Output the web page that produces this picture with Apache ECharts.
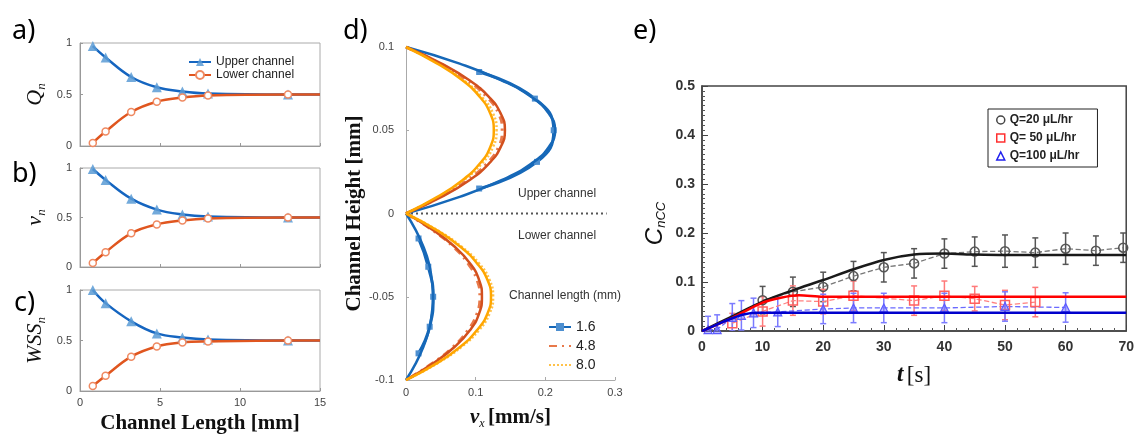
<!DOCTYPE html>
<html>
<head>
<meta charset="utf-8">
<script src="https://cdn.jsdelivr.net/npm/echarts@6/dist/echarts.min.js"></script>
<style>
html, body { margin: 0; padding: 0; background: #fff; }
#main { width: 1137px; height: 435px; }
</style>
</head>
<body>
<div id="main"></div>
<script>
// ---- panels a-c : normalised quantities vs channel length
var chLen  = [0.8, 1.6, 3.2, 4.8, 6.4, 8.0, 13.0, 15.0];
var qUp    = [0.97, 0.86, 0.67, 0.57, 0.53, 0.51, 0.50, 0.50];
var qLow   = [0.03, 0.14, 0.33, 0.43, 0.47, 0.49, 0.50, 0.50];
var vUp    = [0.99, 0.88, 0.69, 0.58, 0.53, 0.51, 0.50, 0.50];
var vLow   = [0.04, 0.15, 0.34, 0.43, 0.47, 0.49, 0.50, 0.50];
var wUp    = [1.00, 0.87, 0.69, 0.57, 0.53, 0.51, 0.50, 0.50];
var wLow   = [0.05, 0.15, 0.34, 0.44, 0.48, 0.49, 0.50, 0.50];

// ---- panel d : velocity profiles (height, velocity)
var hUp   = [0, 0.01, 0.02, 0.03, 0.04, 0.05, 0.06, 0.07, 0.08, 0.09, 0.1];
var hLow  = [0, -0.01, -0.02, -0.03, -0.04, -0.05, -0.06, -0.07, -0.08, -0.09, -0.1];
var fit16Up  = [0, 0.077, 0.137, 0.180, 0.205, 0.214, 0.205, 0.180, 0.137, 0.077, 0];
var fit48Up  = [0, 0.051, 0.091, 0.119, 0.136, 0.142, 0.136, 0.119, 0.091, 0.051, 0];
var fit80Up  = [0, 0.045, 0.081, 0.106, 0.121, 0.126, 0.121, 0.106, 0.081, 0.045, 0];
var fit16Low = [0, 0.014, 0.025, 0.033, 0.037, 0.039, 0.037, 0.033, 0.025, 0.014, 0];
var fit48Low = [0, 0.039, 0.070, 0.092, 0.105, 0.109, 0.105, 0.092, 0.070, 0.039, 0];
var fit80Low = [0, 0.044, 0.078, 0.102, 0.117, 0.122, 0.117, 0.102, 0.078, 0.044, 0];
var m48Up  = [0, 0.049, 0.088, 0.116, 0.133, 0.138, 0.133, 0.116, 0.088, 0.049, 0];
var m80Up  = [0, 0.047, 0.083, 0.109, 0.125, 0.130, 0.125, 0.109, 0.083, 0.047, 0];
var m48Low = [0, 0.038, 0.068, 0.089, 0.102, 0.106, 0.102, 0.089, 0.068, 0.038, 0];
var m80Low = [0, 0.045, 0.080, 0.105, 0.120, 0.125, 0.120, 0.105, 0.080, 0.045, 0];
var m16hUp  = [0.015, 0.031, 0.050, 0.069, 0.085];
var m16vUp  = [0.105, 0.188, 0.212, 0.185, 0.105];
var m16hLow = [-0.015, -0.032, -0.050, -0.068, -0.084];
var m16vLow = [0.018, 0.032, 0.039, 0.034, 0.018];
var divider = [[0, 0], [0.288, 0]];

// ---- panel e : C_nCC vs time
var tFit     = [0, 5, 10, 15, 20, 25, 30, 35, 40, 45, 50, 60, 70];
var fit20    = [0, 0.030, 0.060, 0.083, 0.104, 0.126, 0.145, 0.156, 0.158, 0.156, 0.155, 0.155, 0.155];
var tFit50   = [0, 5, 10, 13, 16, 20, 70];
var fit50    = [0, 0.027, 0.058, 0.068, 0.073, 0.070, 0.070];
var tFit100  = [0, 3, 5, 7, 9, 12, 20, 70];
var fit100   = [0, 0.016, 0.026, 0.034, 0.037, 0.037, 0.037, 0.037];
var t20  = [10, 15, 20, 25, 30, 35, 40, 45, 50, 55, 60, 65, 69.5];
var c20  = [0.063, 0.080, 0.090, 0.112, 0.130, 0.138, 0.158, 0.162, 0.163, 0.160, 0.168, 0.164, 0.170];
var e20  = [0.028, 0.030, 0.030, 0.030, 0.030, 0.030, 0.030, 0.030, 0.033, 0.030, 0.032, 0.030, 0.030];
var t50  = [5, 10, 15, 20, 25, 35, 40, 45, 50, 55];
var c50  = [0.016, 0.040, 0.062, 0.060, 0.072, 0.062, 0.072, 0.066, 0.053, 0.059];
var e50  = [0.020, 0.030, 0.030, 0.025, 0.030, 0.030, 0.030, 0.025, 0.030, 0.030];
var t100 = [1, 2.5, 5, 6.5, 8.5, 12.5, 20, 25, 30, 40, 50, 60];
var c100 = [0.003, 0.003, 0.028, 0.032, 0.037, 0.039, 0.045, 0.047, 0.047, 0.047, 0.050, 0.048];
var e100 = [0.027, 0.030, 0.028, 0.030, 0.030, 0.030, 0.030, 0.030, 0.030, 0.030, 0.030, 0.030];

var SERIF = '"Liberation Serif", "DejaVu Serif", serif';
var SANS = '"Liberation Sans", Arial, sans-serif';

function pairs(xs, ys) {
    return xs.map(function (x, i) { return [x, ys[i]]; });
}
// velocity profiles: x = velocity, y = height
function prof(hs, vs) {
    return hs.map(function (h, i) { return [vs[i], h]; });
}
// last point of a-c curves is the plateau end, no marker there
function curve(ys) {
    return chLen.map(function (x, i) {
        if (i === chLen.length - 1) return { value: [x, ys[i]], symbol: 'none' };
        return [x, ys[i]];
    });
}

var blueA = '#1565c0', orangeA = '#e0561f';
function abcSeries(k, up, low) {
    return [
        { name: 'Upper channel', type: 'line', xAxisIndex: k, yAxisIndex: k, data: curve(up),
          smooth: 0.4, symbol: 'triangle', symbolSize: 10,
          lineStyle: { color: blueA, width: 2.5 }, itemStyle: { color: '#5b9bd5', opacity: 0.85 }, z: 3 },
        { name: 'Lower channel', type: 'line', xAxisIndex: k, yAxisIndex: k, data: curve(low),
          smooth: 0.4, symbol: 'circle', symbolSize: 7,
          lineStyle: { color: orangeA, width: 2.5 },
          itemStyle: { color: '#fff', borderColor: '#ef8a62', borderWidth: 1.5 }, z: 3 }
    ];
}

function errBars(ts, cs, es, color) {
    return {
        type: 'custom', xAxisIndex: 4, yAxisIndex: 4, silent: true, clip: true, z: 1,
        data: ts.map(function (t, i) { return [t, cs[i] - es[i], cs[i] + es[i]]; }),
        encode: { x: 0, y: [1, 2] },
        renderItem: function (params, api) {
            var lo = api.coord([api.value(0), api.value(1)]);
            var hi = api.coord([api.value(0), api.value(2)]);
            var w = 3, st = { stroke: color, lineWidth: 1.5 };
            return { type: 'group', children: [
                { type: 'line', shape: { x1: lo[0], y1: lo[1], x2: hi[0], y2: hi[1] }, style: st },
                { type: 'line', shape: { x1: lo[0] - w, y1: lo[1], x2: lo[0] + w, y2: lo[1] }, style: st },
                { type: 'line', shape: { x1: hi[0] - w, y1: hi[1], x2: hi[0] + w, y2: hi[1] }, style: st }
            ] };
        }
    };
}

function abcX(k, showLabel) {
    return {
        gridIndex: k, type: 'value', min: 0, max: 15, interval: 5,
        axisLine: { lineStyle: { color: '#999' } },
        axisTick: { inside: true, length: 3, lineStyle: { color: '#999' } },
        axisLabel: { show: showLabel, fontSize: 11, color: '#444', fontFamily: SANS, margin: 6 },
        splitLine: { show: false }
    };
}
function abcY(k, name) {
    return {
        gridIndex: k, type: 'value', min: 0, max: 1, interval: 0.5,
        name: name, nameLocation: 'middle', nameGap: 32, nameRotate: 90,
        nameTextStyle: { rich: {
            i: { fontFamily: SERIF, fontStyle: 'italic', fontSize: 22, color: '#111' },
            s: { fontFamily: SERIF, fontStyle: 'italic', fontSize: 13, color: '#111', padding: [12, 0, 0, 0] }
        } },
        axisLine: { lineStyle: { color: '#999' } },
        axisTick: { inside: true, length: 3, lineStyle: { color: '#999' } },
        axisLabel: { fontSize: 11, color: '#444', fontFamily: SANS, margin: 8 },
        splitLine: { show: false }
    };
}

var myChart = echarts.init(document.getElementById('main'), null, { renderer: 'canvas' });

var series = [];
series = series.concat(abcSeries(0, qUp, qLow), abcSeries(1, vUp, vLow), abcSeries(2, wUp, wLow));

// panel d
var colD = { b: '#1668b8', o: '#d2501e', y: '#ffa600' };
series.push(
    { type: 'line', xAxisIndex: 3, yAxisIndex: 3, data: divider, showSymbol: false, silent: true,
      lineStyle: { color: '#555', width: 2, type: [2, 3] }, z: 1 },
    { name: '8.0', type: 'line', xAxisIndex: 3, yAxisIndex: 3, data: prof(hUp, m80Up), smooth: true, symbol: 'none',
      lineStyle: { color: '#ffc24a', width: 2.5, type: [2, 2] }, itemStyle: { color: '#ffc24a' }, z: 2 },
    { name: '8.0', type: 'line', xAxisIndex: 3, yAxisIndex: 3, data: prof(hLow, m80Low), smooth: true, symbol: 'none',
      lineStyle: { color: '#ffc24a', width: 2.5, type: [2, 2] }, itemStyle: { color: '#ffc24a' }, z: 2 },
    { name: '4.8', type: 'line', xAxisIndex: 3, yAxisIndex: 3, data: prof(hUp, m48Up), smooth: true, symbol: 'none',
      lineStyle: { color: '#e8794a', width: 3, type: [8, 5, 2, 5] }, itemStyle: { color: '#e8794a' }, z: 2 },
    { name: '4.8', type: 'line', xAxisIndex: 3, yAxisIndex: 3, data: prof(hLow, m48Low), smooth: true, symbol: 'none',
      lineStyle: { color: '#e8794a', width: 3, type: [8, 5, 2, 5] }, itemStyle: { color: '#e8794a' }, z: 2 },
    { name: '1.6', type: 'line', xAxisIndex: 3, yAxisIndex: 3, data: prof(m16hUp, m16vUp), smooth: true,
      symbol: 'rect', symbolSize: 6, lineStyle: { color: '#1668b8', width: 3 }, itemStyle: { color: '#4d8fd0' }, z: 2 },
    { name: '1.6', type: 'line', xAxisIndex: 3, yAxisIndex: 3, data: prof(m16hLow, m16vLow), smooth: true,
      symbol: 'rect', symbolSize: 6, lineStyle: { color: '#1668b8', width: 3 }, itemStyle: { color: '#4d8fd0' }, z: 2 }
);
[[fit16Up, fit16Low, colD.b], [fit48Up, fit48Low, colD.o], [fit80Up, fit80Low, colD.y]].forEach(function (f) {
    [prof(hUp, f[0]), prof(hLow, f[1])].forEach(function (d) {
        series.push({ type: 'line', xAxisIndex: 3, yAxisIndex: 3, data: d, smooth: true, showSymbol: false,
            silent: true, lineStyle: { color: f[2], width: 2.5 }, z: 3 });
    });
});

// panel e
series.push(
    errBars(t20, c20, e20, '#555'),
    errBars(t50, c50, e50, '#ff7a7a'),
    errBars(t100, c100, e100, '#7b7bff'),
    { name: 'Q=20 μL/hr', type: 'line', xAxisIndex: 4, yAxisIndex: 4, data: pairs(t20, c20),
      symbol: 'circle', symbolSize: 9, lineStyle: { color: '#777', width: 1.3, type: 'dashed' },
      itemStyle: { color: 'rgba(255,255,255,0)', borderColor: '#555', borderWidth: 1.5 }, z: 2 },
    { name: 'Q= 50 μL/hr', type: 'line', xAxisIndex: 4, yAxisIndex: 4, data: pairs(t50, c50),
      symbol: 'rect', symbolSize: 9, lineStyle: { color: '#ff8080', width: 1.3, type: 'dashed' },
      itemStyle: { color: 'rgba(255,255,255,0)', borderColor: '#ff6060', borderWidth: 1.5 }, z: 2 },
    { name: 'Q=100 μL/hr', type: 'line', xAxisIndex: 4, yAxisIndex: 4, data: pairs(t100, c100),
      symbol: 'triangle', symbolSize: 8, lineStyle: { color: '#6a6aff', width: 1.3, type: 'dashed' },
      itemStyle: { color: 'rgba(120,120,255,0.5)', borderColor: '#5b5bff', borderWidth: 1.2 }, z: 2 },
    { type: 'line', xAxisIndex: 4, yAxisIndex: 4, data: pairs(tFit, fit20), smooth: 0.3,
      showSymbol: false, silent: true, lineStyle: { color: '#1a1a1a', width: 2.5 }, z: 4 },
    { type: 'line', xAxisIndex: 4, yAxisIndex: 4, data: pairs(tFit50, fit50), smooth: 0.3,
      showSymbol: false, silent: true, lineStyle: { color: '#ff0000', width: 2.5 }, z: 4 },
    { type: 'line', xAxisIndex: 4, yAxisIndex: 4, data: pairs(tFit100, fit100), smooth: 0.3,
      showSymbol: false, silent: true, lineStyle: { color: '#0000cc', width: 2.5 }, z: 4 }
);

var eAxisLabel = { fontSize: 14, fontWeight: 'bold', color: '#333', fontFamily: SANS };
var panelFont = '"Noto Sans", sans-serif';

myChart.setOption({
    backgroundColor: '#fff',
    animation: false,
    grid: [
        { left: 80, top: 43, width: 240, height: 103, show: true, borderColor: '#aaa', borderWidth: 1 },
        { left: 80, top: 168, width: 240, height: 99, show: true, borderColor: '#aaa', borderWidth: 1 },
        { left: 80, top: 290, width: 240, height: 101, show: true, borderColor: '#aaa', borderWidth: 1 },
        { left: 406, top: 47, width: 209, height: 343 },
        { left: 702, top: 86, width: 431, height: 245, show: true, borderColor: '#444', borderWidth: 1.5 }
    ],
    xAxis: [
        abcX(0, false), abcX(1, false),
        Object.assign(abcX(2, true), {
            name: 'Channel Length [mm]', nameLocation: 'middle', nameGap: 22,
            nameTextStyle: { fontFamily: SERIF, fontWeight: 'bold', fontSize: 21, color: '#111', verticalAlign: 'top' }
        }),
        { gridIndex: 3, type: 'value', min: 0, max: 0.3, interval: 0.1,
          name: '{i|ν}{s|x} {n|[mm/s]}', nameLocation: 'middle', nameGap: 26,
          nameTextStyle: { verticalAlign: 'top', rich: {
              i: { fontFamily: SERIF, fontStyle: 'italic', fontWeight: 'bold', fontSize: 21, color: '#111' },
              s: { fontFamily: SERIF, fontStyle: 'italic', fontSize: 12, color: '#111', padding: [12, 0, 0, 0] },
              n: { fontFamily: SERIF, fontWeight: 'bold', fontSize: 21, color: '#111' } } },
          axisLine: { onZero: false, lineStyle: { color: '#aaa' } },
          axisTick: { inside: true, length: 3, lineStyle: { color: '#aaa' } },
          axisLabel: { fontSize: 11, color: '#444', fontFamily: SANS, margin: 7 },
          splitLine: { show: false } },
        { gridIndex: 4, type: 'value', min: 0, max: 70, interval: 10,
          name: '{i|t} {n|[s]}', nameLocation: 'middle', nameGap: 33,
          nameTextStyle: { verticalAlign: 'top', rich: {
              i: { fontFamily: SERIF, fontStyle: 'italic', fontWeight: 'bold', fontSize: 23, color: '#111' },
              n: { fontFamily: SERIF, fontSize: 23, color: '#111' } } },
          axisLine: { lineStyle: { color: '#444', width: 1.5 } },
          axisTick: { inside: true, length: 6, lineStyle: { color: '#444' } },
          minorTick: { show: true, splitNumber: 5, length: 3, lineStyle: { color: '#555' } },
          axisLabel: Object.assign({ margin: 9 }, eAxisLabel),
          splitLine: { show: false } }
    ],
    yAxis: [
        abcY(0, '{i|Q}{s|n}'), abcY(1, '{i|ν}{s|n}'), abcY(2, '{i|WSS}{s|n}'),
        { gridIndex: 3, type: 'value', min: -0.1, max: 0.1, interval: 0.05,
          name: 'Channel Height [mm]', nameLocation: 'middle', nameGap: 38, nameRotate: 90,
          nameTextStyle: { fontFamily: SERIF, fontWeight: 'bold', fontSize: 21, color: '#111' },
          axisLine: { onZero: false, lineStyle: { color: '#aaa' } },
          axisTick: { inside: true, length: 3, lineStyle: { color: '#aaa' } },
          axisLabel: { fontSize: 11, color: '#444', fontFamily: SANS, margin: 12 },
          splitLine: { show: false } },
        { gridIndex: 4, type: 'value', min: 0, max: 0.5, interval: 0.1,
          name: '{c|C}{s|nCC}', nameLocation: 'middle', nameGap: 34, nameRotate: 90,
          nameTextStyle: { padding: [0, 30, 0, 0], rich: {
              c: { fontFamily: SANS, fontStyle: 'italic', fontSize: 24, color: '#111' },
              s: { fontFamily: SANS, fontStyle: 'italic', fontSize: 13, color: '#111', padding: [12, 0, 0, 0] } } },
          axisLine: { lineStyle: { color: '#444', width: 1.5 } },
          axisTick: { inside: true, length: 6, lineStyle: { color: '#444' } },
          minorTick: { show: true, splitNumber: 10, length: 3, lineStyle: { color: '#555' } },
          axisLabel: Object.assign({ margin: 7 }, eAxisLabel),
          splitLine: { show: false } }
    ],
    legend: [
        { data: ['Upper channel', 'Lower channel'], orient: 'vertical', left: 183, top: 51, itemGap: 1,
          itemWidth: 22, itemHeight: 10, selectedMode: false,
          textStyle: { fontSize: 12, color: '#222', fontFamily: SANS } },
        { data: ['1.6',
                 { name: '4.8', itemStyle: { opacity: 0 } },
                 { name: '8.0', itemStyle: { opacity: 0 } }],
          orient: 'vertical', left: 543, top: 315, itemGap: 5,
          itemWidth: 22, itemHeight: 10, selectedMode: false,
          textStyle: { fontSize: 14, color: '#222', fontFamily: SANS } },
        { data: [
              { name: 'Q=20 μL/hr', icon: 'circle', itemStyle: { color: '#fff', borderColor: '#444', borderWidth: 1.5 } },
              { name: 'Q= 50 μL/hr', icon: 'rect', itemStyle: { color: '#fff', borderColor: '#ff3030', borderWidth: 1.5 } },
              { name: 'Q=100 μL/hr', icon: 'triangle', itemStyle: { color: '#fff', borderColor: '#2020ee', borderWidth: 1.5 } }
          ],
          orient: 'vertical', left: 988, top: 109, itemGap: 6, itemWidth: 8, itemHeight: 8,
          padding: [5, 18, 5, 8], borderColor: '#222', borderWidth: 1, backgroundColor: '#fff',
          selectedMode: false,
          textStyle: { fontSize: 12, fontWeight: 'bold', color: '#222', fontFamily: SANS } }
    ],
    graphic: [
        { type: 'text', left: 12, top: 18, style: { text: 'a)', fontSize: 27, fontFamily: panelFont, fill: '#000' } },
        { type: 'text', left: 12, top: 161, style: { text: 'b)', fontSize: 27, fontFamily: panelFont, fill: '#000' } },
        { type: 'text', left: 14, top: 290, style: { text: 'c)', fontSize: 27, fontFamily: panelFont, fill: '#000' } },
        { type: 'text', left: 343, top: 18, style: { text: 'd)', fontSize: 27, fontFamily: panelFont, fill: '#000' } },
        { type: 'text', left: 633, top: 18, style: { text: 'e)', fontSize: 27, fontFamily: panelFont, fill: '#000' } },
        { type: 'text', left: 518, top: 188, style: { text: 'Upper channel', fontSize: 12, fontFamily: SANS, fill: '#333' } },
        { type: 'text', left: 518, top: 230, style: { text: 'Lower channel', fontSize: 12, fontFamily: SANS, fill: '#333' } },
        { type: 'text', left: 509, top: 290, style: { text: 'Channel length (mm)', fontSize: 12, fontFamily: SANS, fill: '#333' } }
    ],
    series: series
});
</script>
</body>
</html>
